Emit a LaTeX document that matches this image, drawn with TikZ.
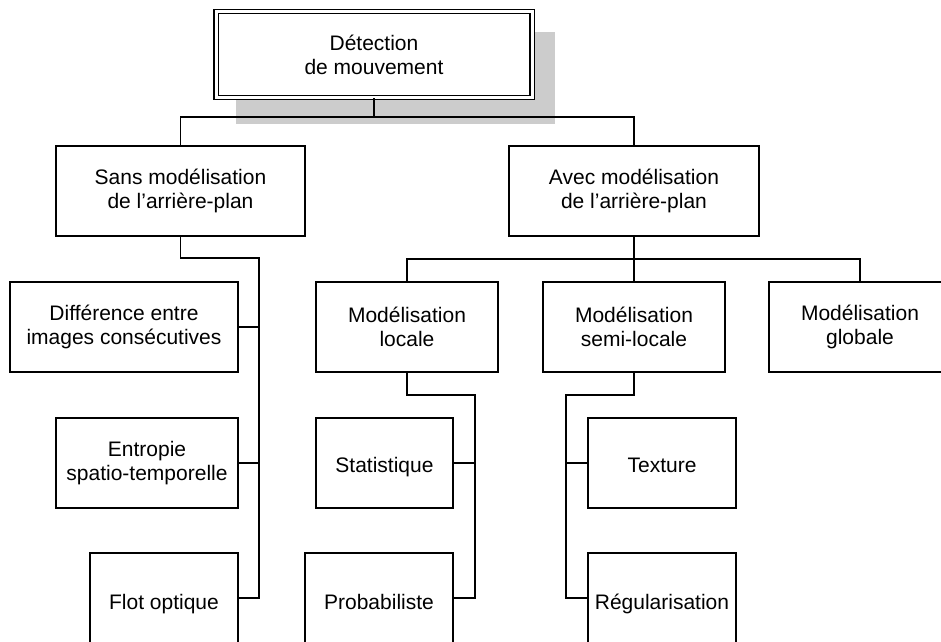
\documentclass[tikz,border=0pt]{standalone}
\usepackage{fontspec}
\setmainfont{Liberation Sans}
\begin{document}
\begin{tikzpicture}[x=1pt,y=-1pt,
  every node/.style={font=\fontsize{21}{24}\selectfont, align=center, inner sep=0pt},
  boxn/.style={draw, line width=1.3pt, fill=white, minimum height=90pt},
  midline/.style={text height=19pt, text depth=1pt},
  lowline/.style={text height=23pt, text depth=1pt},
  conn/.style={line width=1.7pt},
  topbox/.style={draw, double, double distance=3pt, line width=1.2pt, fill=white,
                 minimum width=316pt, minimum height=86pt}]
\useasboundingbox (0,0) rectangle (941,641);
\clip (0,0) rectangle (941,641);
\fill[white] (0,0) rectangle (941,641);
% shadow
\fill[fill={rgb,255:red,204;green,204;blue,204}] (236,32) rectangle (555,124);
% nodes
\node[topbox] (top) at (374,54.5) {Détection\\de mouvement};
\node[boxn, minimum width=249pt] (sans) at (180.5,191) {Sans modélisation\\ de l’arrière-plan};
\node[boxn, minimum width=250pt] (avec) at (634,191) {Avec modélisation\\de l’arrière-plan};
\node[boxn, minimum width=228pt] (diff) at (124,327) {Différence entre\\images consécutives};
\node[boxn, minimum width=182pt] (entropie) at (147,463) {Entropie\\spatio-temporelle};
\node[boxn, lowline, minimum width=148pt] (flot) at (164,598) {Flot optique};
\node[boxn, minimum width=182pt] (locale) at (407,327) {Modélisation\\locale};
\node[boxn, minimum width=182pt] (semi) at (634,327) {Modélisation\\semi-locale};
\node[boxn, minimum width=182pt] (globale) at (860,327) {Modélisation\\globale};
\node[boxn, midline, minimum width=137pt] (stat) at (384.5,463) {Statistique};
\node[boxn, lowline, minimum width=148pt] (proba) at (379,598) {Probabiliste};
\node[boxn, midline, minimum width=148pt] (texture) at (662,463) {Texture};
\node[boxn, lowline, minimum width=148pt] (regul) at (662,598) {Régularisation};
% connector points
\coordinate (b1) at (374,117);
\coordinate (s1) at (259,258);
\coordinate (b2) at (634,259);
\coordinate (l1) at (475,395);
\coordinate (m1) at (566,395);
% connectors
\draw[conn] (top.south) -- (b1);
\draw[conn] (sans.north) |- (b1) -| (avec.north);
\draw[conn] (sans.south) |- (s1) -- (s1 |- flot.east) -- (flot.east);
\draw[conn] (diff.east) -- (diff.east -| s1);
\draw[conn] (entropie.east) -- (entropie.east -| s1);
\draw[conn] (avec.south) -- (b2);
\draw[conn] (locale.north) |- (b2) -| (globale.north);
\draw[conn] (semi.north) -- (b2);
\draw[conn] (locale.south) |- (l1) -- (l1 |- proba.east) -- (proba.east);
\draw[conn] (stat.east) -- (stat.east -| l1);
\draw[conn] (semi.south) |- (m1) -- (m1 |- regul.west) -- (regul.west);
\draw[conn] (texture.west) -- (texture.west -| m1);
\end{tikzpicture}
\end{document}
